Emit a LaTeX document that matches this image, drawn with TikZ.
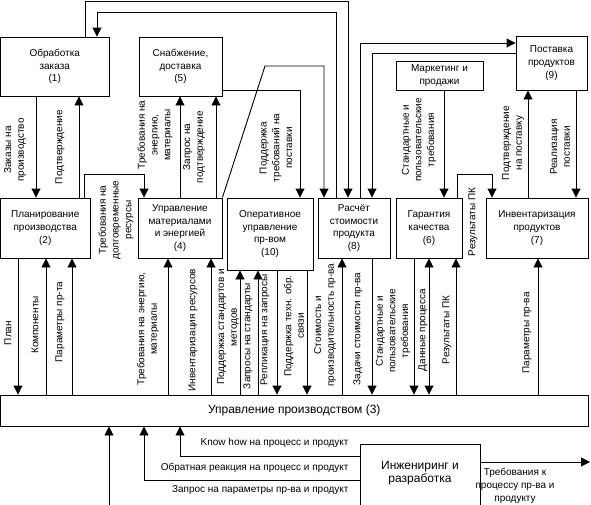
\documentclass[tikz,border=0pt]{standalone}
\usepackage{fontspec}
\setmainfont{Liberation Sans}
\usetikzlibrary{arrows.meta}
\begin{document}
\begin{tikzpicture}[x=1pt,y=-1pt,line width=0.9pt,
  box/.style={draw,inner sep=0pt,align=center,font=\fontsize{10}{12.7}\selectfont},
  bigbox/.style={draw,inner sep=0pt,align=center,font=\fontsize{12}{14}\selectfont},
  lbl/.style={inner sep=0pt,align=center,font=\fontsize{10}{12.7}\selectfont},
  biglbl/.style={inner sep=0pt,align=center,font=\fontsize{12}{13.5}\selectfont},
  vl/.style={lbl,rotate=90},
  arr/.style={-{Triangle[length=9pt,width=9pt]}},
  darr/.style={{Triangle[length=9pt,width=9pt]}-{Triangle[length=9pt,width=9pt]}}]
\useasboundingbox (0,0) rectangle (591,504);
% boxes
\node[box,minimum width=108.5pt,minimum height=59pt] (b1) at (54.75,66.5) {Обработка\\заказа\\(1)};
\node[box,minimum width=83pt,minimum height=59pt] (b5) at (180.5,66.5) {Снабжение,\\доставка\\(5)};
\node[box,minimum width=71pt,minimum height=54pt] (b9) at (551.5,63) {Поставка\\продуктов\\(9)};
\node[box,minimum width=87pt,minimum height=29pt] (bm) at (439.5,75.5) {Маркетинг и\\продажи};
\node[box,minimum width=89.5pt,minimum height=60pt] (b2) at (45.25,228) {Планирование\\производства\\(2)};
\node[box,minimum width=84pt,minimum height=60pt] (b4) at (180,228) {Управление\\материалами\\и энергией\\(4)};
\node[box,minimum width=86pt,minimum height=72pt] (b10) at (270,234) {Оперативное\\управление\\пр-вом\\(10)};
\node[box,minimum width=72pt,minimum height=60pt] (b8) at (354,228) {Расчёт\\стоимости\\продукта\\(8)};
\node[box,minimum width=66pt,minimum height=60pt] (b6) at (429,228) {Гарантия\\качества\\(6)};
\node[box,minimum width=102pt,minimum height=60pt] (b7) at (537,228) {Инвентаризация\\продуктов\\(7)};
\node[bigbox,minimum width=587.5pt,minimum height=31pt] (b3) at (294.25,410.5) {Управление производством (3)};
\node[draw,inner sep=0pt,minimum width=120pt,minimum height=70pt] (be) at (420,479) {};
\node[biglbl] (betext) at (420,473) {Инжениринг и\\разработка};
\coordinate (qbot) at (109,506);
\coordinate (rend) at (590,462);
% top connectors
\draw[arr] (b1.north -| 85,0) -- (85,1.5) -- (348,1.5) -- (b8.north -| 348,0);
\draw[arr] (b8.north -| 336,0) -- (336,12) -- (97,12) -- (b1.north -| 97,0);
\draw[arr] (b8.north -| 360,0) -- (360,43) -- (b9.west |- 0,43);
\draw[arr] (b9.west |- 0,53) -- (372,53) -- (b8.north -| 372,0);
\draw[arr] (b4.north east) -- (265,66) -- (324,66) -- (b8.north -| 324,0);
\draw[arr] (b5.east |- 0,90) -- (300,90) -- (b10.north -| 300,0);
\draw[arr] (bm.south -| 444,0) -- (b6.north -| 444,0);
\draw[arr] (b7.north -| 528,0) -- (b9.south -| 528,0);
\draw[arr] (b9.south -| 576,0) -- (b7.north -| 576,0);
\draw[arr] (b6.north -| 457,0) -- (457,174) -- (492,174) -- (b7.north -| 492,0);
\draw[arr] (b1.south -| 36,0) -- (b2.north -| 36,0);
\draw[arr] (b2.north -| 79,0) -- (b1.south -| 79,0);
\draw[arr] (b2.north -| 84,0) -- (84,174) -- (144,174) -- (b4.north -| 144,0);
\draw[arr] (b4.north -| 180,0) -- (b5.south -| 180,0);
\draw[arr] (b4.north -| 216,0) -- (b5.south -| 216,0);
% bottom connectors
\draw[arr] (b2.south -| 18,0) -- (b3.north -| 18,0);
\draw[arr] (b3.north -| 46,0) -- (b2.south -| 46,0);
\draw[arr] (b3.north -| 72,0) -- (b2.south -| 72,0);
\draw[arr] (b3.north -| 168,0) -- (b4.south -| 168,0);
\draw[arr] (b3.north -| 211,0) -- (b4.south -| 211,0);
\draw[arr] (b3.north -| 240,0) -- (b10.south -| 240,0);
\draw[arr] (b3.north -| 258,0) -- (b10.south -| 258,0);
\draw[arr] (b10.south -| 277,0) -- (b3.north -| 277,0);
\draw[arr] (b10.south -| 307,0) -- (b3.north -| 307,0);
\draw[arr] (b3.north -| 342,0) -- (b8.south -| 342,0);
\draw[arr] (b8.south -| 372,0) -- (b3.north -| 372,0);
\draw[arr] (b6.south -| 414,0) -- (b3.north -| 414,0);
\draw[darr] (b6.south -| 429,0) -- (b3.north -| 429,0);
\draw[arr] (b3.north -| 456,0) -- (b6.south -| 456,0);
\draw[arr] (b3.north -| 538,0) -- (b7.south -| 538,0);
\draw[arr] (be.west |- 0,456) -- (180,456) -- (b3.south -| 180,0);
\draw[arr] (be.west |- 0,480) -- (144,480) -- (b3.south -| 144,0);
\draw[arr] (qbot) -- (b3.south -| 109,0);
\draw[arr] (be.east |- rend) -- (rend);
% labels, upper part
\node[vl] (l1) at (15,150) {Заказы на\\производство};
\node[vl] (l2) at (60,147) {Подтверждение};
\node[vl] (l3) at (155,135) {Требования на\\энергию,\\материалы};
\node[vl] (l4) at (194,147) {Запрос на\\подтверждение};
\node[vl] (l5) at (276,148) {Поддержка\\требований на\\поставки};
\node[vl] (l6) at (419,140) {Стандартные и\\пользовательские\\требования};
\node[vl] (l7) at (513,143) {Подтверждение\\на поставку};
\node[vl] (l8) at (560,147) {Реализация\\поставки};
\node[vl] (l9) at (116,220) {Требования на\\долговременные\\ресурсы};
\node[vl] (l10) at (473,222) {Результаты ПК};
% labels, lower part
\node[vl] (m1) at (8,333) {План};
\node[vl] (m2) at (35,325) {Компоненты};
\node[vl] (m3) at (60,322) {Параметры пр-та};
\node[vl] (m4) at (148,329) {Требования на энергию,\\материалы};
\node[vl] (m5) at (193,330) {Инвентаризация ресурсов};
\node[vl] (m6) at (228,327) {Поддержка стандартов и\\методов};
\node[vl] (m7) at (248,336) {Запросы на стандарты};
\node[vl] (m8) at (265,330) {Репликация на запросы};
\node[vl] (m9) at (294,326) {Поддержка техн. обр.\\связи};
\node[vl] (m10) at (325,325) {Стоимость и\\производительность пр-ва};
\node[vl] (m11) at (358,329) {Задачи стоимости пр-ва};
\node[vl] (m12) at (393,331) {Стандартные и\\пользовательские\\требования};
\node[vl] (m13) at (423,330) {Данные процесса};
\node[vl] (m14) at (447,330) {Результаты ПК};
\node[vl] (m15) at (527,333) {Параметры пр-ва};
% labels, bottom
\node[lbl,anchor=east] (n1) at (349,443) {Know how на процесс и продукт};
\node[lbl,anchor=east] (n2) at (349,468) {Обратная реакция на процесс и продукт};
\node[lbl,anchor=east] (n3) at (349,490) {Запрос на параметры пр-ва и продукт};
\node[lbl] (n4) at (515,486) {Требования к\\процессу пр-ва и\\продукту};
\end{tikzpicture}
\end{document}
